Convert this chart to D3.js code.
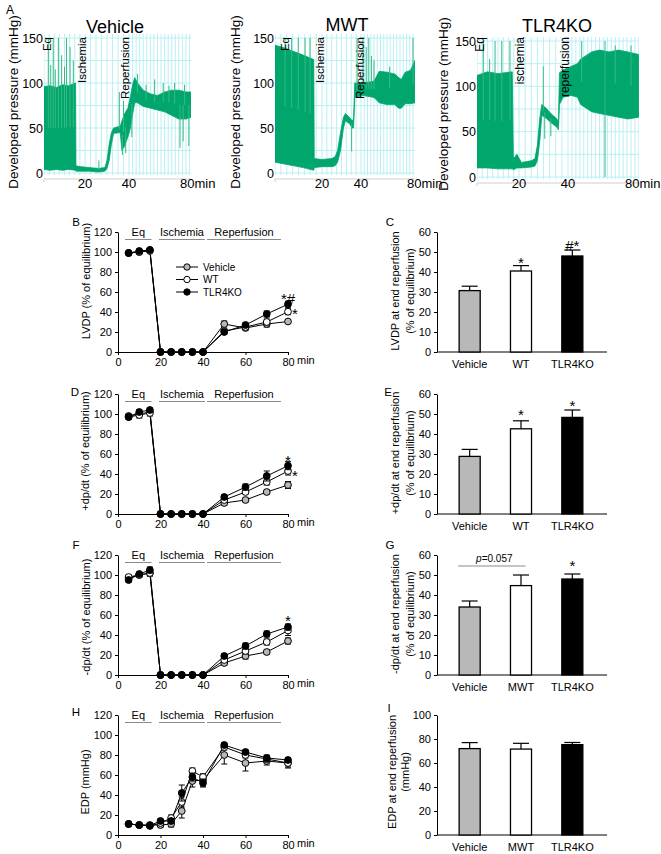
<!DOCTYPE html>
<html><head><meta charset="utf-8">
<script src="https://cdn.jsdelivr.net/npm/d3@7"></script>
<style>
body{margin:0;background:#fff}
svg{display:block}
</style></head><body>
<svg id="c" width="661" height="854"></svg>
<script>
// ================= DATA =================
// Panel A: pressure traces (time in min, envelope low / high in mmHg)
const traceXDomain = [0, 20, 40, 80];
const traceYTicks = [0, 50, 100, 150];
const traceXTicks = [20, 40];
const traceTitles = ["Vehicle", "MWT", "TLR4KO"];

const vehicleEnvelope = [[0,4,96],[3,3,97],[6,4,95],[9,3,98],[12,4,97],[15.4,3,100],[15.6,2,8],[18,2,7],[22,2,6],[26,1,5],[29,2,6],[30,5,14],[31,14,32],[32,32,45],[33,44,50],[36,45,52],[36.8,25,58],[38,30,66],[39.5,40,72],[41,50,85],[42.5,65,98],[44,78,106],[46,78,100],[50,74,92],[55,72,88],[60,70,86],[65,68,90],[70,64,92],[75,60,92],[80,60,90],[83.5,62,90]];
const vehicleSpikes = [[2.1,150],[3.3,120],[4.5,150],[5.5,115],[7,150],[8.6,131],[10,118],[11,150],[12.7,140],[14.3,125],[26.3,14],[35.6,90],[37,20],[37.5,80],[38.5,22],[42,40],[46,110],[52,98],[58,104],[64,100],[68,97],[72,100],[75.8,28],[78,35],[79,98],[82,30]];
const vehicleEvents = ["Eq", "Ischemia", "Reperfusion"];
const vehicleEventTimes = [1.5, 18.5, 38.2];

const mwtEnvelope = [[0,12,142],[4,10,139],[8,8,135],[12,6,131],[16.5,3,126],[16.7,6,16],[20,7,15],[25,7,16],[26.7,8,18],[28,12,25],[29.5,25,45],[31,50,62],[32,58,66],[34,55,62],[35.5,50,58],[36.2,50,60],[36.8,84,100],[42,86,100],[50,84,102],[54,78,113],[60,76,112],[66,76,110],[69,72,106],[71,72,104],[74,77,112],[78,77,114],[81.5,78,125]];
const mwtSpikes = [[4.3,150],[7.1,150],[9.9,150],[12.8,150],[14.9,150],[35.2,24],[38,150],[41.5,150],[44,140],[46,150],[48,130],[50,125],[62,118],[80,150]];
const mwtEvents = ["Eq", "Ischemia", "Reperfusion"];
const mwtEventTimes = [4.3, 19.1, 39.5];

const tlr4Envelope = [[0,10,112],[5,10,116],[10,9,114],[16.8,9,116],[17.3,8,20],[19,10,25],[21,10,16],[25,11,18],[26.5,12,20],[27.5,18,35],[28.5,40,65],[29.3,68,80],[31,65,76],[33,60,70],[35.5,55,64],[36.1,52,60],[36.5,80,115],[38,88,118],[42,90,122],[46,88,125],[48,80,130],[55,72,138],[60,70,140],[66,68,138],[72,66,140],[78,64,138],[85,66,135]];
const tlr4Spikes = [[3,150],[6,130],[8.6,150],[11.8,150],[15.7,150],[29.9,122],[30.5,42],[33,45],[48.7,150],[63.5,0],[63.5,150],[70,145],[80,145]];
const tlr4Events = ["Eq", "ischemia", "reperfusion"];
const tlr4EventTimes = [1.4, 20.4, 38.8];

// Panels B, D, F, H: time course
const lineTimes = [5, 10, 15, 20, 25, 30, 35, 40, 50, 60, 70, 80];
const lineYTicks = [0, 20, 40, 60, 80, 100, 120];
const lineXTicks = [0, 20, 40, 60, 80];
const seriesNames = ["Vehicle", "WT", "TLR4KO"];
const headerNames = ["Eq", "Ischemia", "Reperfusion"];
const headerStart = [3.3, 19.3, 41.9];
const headerEnd = [15.8, 40.9, 76.7];

const lvdpVehicle = [99, 100, 102, 0, 0, 0, 0, 0, 28, 24, 28, 30.5];
const lvdpVehicleErr = [1, 1, 1, 0, 0, 0, 0, 0, 3, 2, 3, 2];
const lvdpWT = [99, 100, 101, 0, 0, 0, 0, 0, 21, 25, 30, 40.3];
const lvdpWTErr = [1, 2, 1, 0, 0, 0, 0, 0, 2, 2, 3, 3];
const lvdpKO = [99, 101, 102, 0, 0, 0, 0, 0, 20, 27, 38, 47.8];
const lvdpKOErr = [1, 1, 1, 0, 0, 0, 0, 0, 2, 2, 3, 3];
const lvdpMarkText = ["*#", "*"];
const lvdpMarkV = [56, 41];

const pdpVehicle = [98, 100, 102, 0, 0, 0, 0, 0, 11, 14, 22, 29];
const pdpVehicleErr = [2, 2, 2, 0, 0, 0, 0, 0, 2, 2, 2, 3.5];
const pdpWT = [97, 99, 101, 0, 0, 0, 0, 0, 14, 22, 32, 43];
const pdpWTErr = [2, 3, 3, 0, 0, 0, 0, 0, 2, 2, 3, 4];
const pdpKO = [97, 102, 104, 0, 0, 0, 0, 0, 17, 27, 38, 48.3];
const pdpKOErr = [2, 2, 2, 0, 0, 0, 0, 0, 2, 3, 5, 4];
const pdpMarkText = ["*", "*"];
const pdpMarkV = [56, 41];

const ndpVehicle = [97, 100, 102, 0, 0, 0, 0, 0, 12, 19, 23, 34];
const ndpVehicleErr = [2, 2, 3, 0, 0, 0, 0, 0, 2, 3, 2, 3];
const ndpWT = [98, 100, 102, 0, 0, 0, 0, 0, 15, 24, 33, 44.5];
const ndpWTErr = [2, 2, 3, 0, 0, 0, 0, 0, 2, 3, 3, 5];
const ndpKO = [95, 101, 105, 0, 0, 0, 0, 0, 19, 29, 41, 48];
const ndpKOErr = [2, 1, 3, 0, 0, 0, 0, 0, 2, 3, 3, 3];
const ndpMarkText = ["*"];
const ndpMarkV = [57];

const edpVehicle = [11, 10, 10, 10, 11, 24, 54, 55, 80, 72, 74, 72];
const edpVehicleErr = [1, 1, 1, 2, 3, 7, 6, 6, 9, 8, 4, 5];
const edpWT = [11, 10, 9, 12, 17, 33, 64, 58, 88, 80, 76, 72];
const edpWTErr = [1, 1, 1, 2, 3, 5, 3, 3, 3, 3, 3, 4];
const edpKO = [11, 10, 9.5, 14, 14, 42, 58, 52, 90, 83, 77, 75];
const edpKOErr = [1, 1, 1, 2, 2, 8, 4, 4, 2, 2, 3, 2];

// Panels C, E, G, I: end of reperfusion
const barCatsWT = ["Vehicle", "WT", "TLR4KO"];
const barCatsMWT = ["Vehicle", "MWT", "TLR4KO"];
const pctTicks = [0, 10, 20, 30, 40, 50, 60];
const edpTicks = [0, 20, 40, 60, 80, 100];
const lvdpEnd = [30.7, 40.5, 48];
const lvdpEndErr = [2.2, 2.7, 3];
const lvdpEndStars = ["", "*", "#*"];
const lvdpEndStarV = [0, 46, 54.5];
const pdpEnd = [28.8, 42.6, 48.3];
const pdpEndErr = [3.5, 4, 3.7];
const pdpEndStars = ["", "*", "*"];
const pdpEndStarV = [0, 51, 55.5];
const ndpEnd = [34, 44.7, 48];
const ndpEndErr = [3, 5.3, 2.5];
const ndpEndStars = ["", "", "*"];
const ndpEndStarV = [0, 0, 56];
const ndpPText = "=0.057";
const ndpPLineV = 54.5;
const edpEnd = [72, 71.6, 75.3];
const edpEndErr = [5, 4.8, 1.8];

// ================= DRAW =================
const svg = d3.select("#c");
const NARROW = "'Liberation Sans Narrow','Arial Narrow','Liberation Sans',Arial,sans-serif";
const REG = "'Liberation Sans',Arial,sans-serif";
const GREEN = "#00a66c";
const SPIKE = "#35b985";
const FILLS = ["#b8b8b8", "#ffffff", "#000000"];
const defs = svg.append("defs");

function txt(g, x, y, s, size, anchor, fam) {
  return g.append("text").attr("x", x).attr("y", y).text(s)
    .attr("font-size", size).attr("font-family", fam || NARROW)
    .attr("text-anchor", anchor || "start").attr("fill", "#000");
}
function mid(env, t) {
  for (let i = 1; i < env.length; i++) {
    if (t <= env[i][0]) {
      const a = env[i - 1], b = env[i];
      const f = (t - a[0]) / (b[0] - a[0] || 1);
      return ((a[1] + a[2]) / 2) * (1 - f) + ((b[1] + b[2]) / 2) * f;
    }
  }
  const l = env[env.length - 1];
  return (l[1] + l[2]) / 2;
}

txt(svg, 6, 14, "A", 12, "start");

const traceCfg = [
  { env: vehicleEnvelope, spikes: vehicleSpikes, ev: vehicleEvents, evT: vehicleEventTimes,
    xr: [44, 85, 129, 186], x0: 44, x1: 191, yr: [173, 38], title: [115, 33], ylab: [13, 102], evFs: 11.5 },
  { env: mwtEnvelope, spikes: mwtSpikes, ev: mwtEvents, evT: mwtEventTimes,
    xr: [275, 322, 361, 413], x0: 275, x1: 415, yr: [173, 38], title: [347, 31], ylab: [235, 102], evFs: 11.5 },
  { env: tlr4Envelope, spikes: tlr4Spikes, ev: tlr4Events, evT: tlr4EventTimes,
    xr: [477, 519, 568, 631], x0: 477, x1: 639, yr: [177, 41], title: [557, 32], ylab: [443, 104], evFs: 12 }
];

traceCfg.forEach((c, i) => {
  const x = d3.scaleLinear().domain(traceXDomain).range(c.xr);
  const y = d3.scaleLinear().domain([0, 150]).range(c.yr);
  const tMax = x.invert(c.x1);
  const g = svg.append("g");
  const cid = "clipA" + i;
  defs.append("clipPath").attr("id", cid).append("rect")
    .attr("x", c.x0).attr("y", c.yr[1] - 4).attr("width", c.x1 - c.x0).attr("height", c.yr[0] - c.yr[1] + 6);
  const p = g.append("g").attr("clip-path", `url(#${cid})`);
  p.selectAll("line.gv").data(d3.range(0, tMax, 2.5)).join("line").attr("class", "gv")
    .attr("x1", d => x(d)).attr("x2", d => x(d)).attr("y1", c.yr[1] - 4).attr("y2", c.yr[0] + 2)
    .attr("stroke", "#b3eef3").attr("stroke-width", 0.9);
  p.selectAll("line.gh").data(d3.range(0, 151, 25)).join("line").attr("class", "gh")
    .attr("y1", d => y(d)).attr("y2", d => y(d)).attr("x1", c.x0).attr("x2", c.x1)
    .attr("stroke", "#b3eef3").attr("stroke-width", 0.9);
  const area = d3.area().x(d => x(d[0])).y0(d => y(d[1])).y1(d => y(d[2]));
  p.append("path").datum(c.env).attr("d", area).attr("fill", GREEN).attr("stroke", GREEN).attr("stroke-width", 0.8);
  p.selectAll("line.sp").data(c.spikes).join("line").attr("class", "sp")
    .attr("x1", d => x(d[0])).attr("x2", d => x(d[0]))
    .attr("y1", d => y(mid(c.env, d[0]))).attr("y2", d => y(d[1]))
    .attr("stroke", SPIKE).attr("stroke-width", 1);
  // bottom axis line
  g.append("line").attr("x1", c.x0).attr("x2", c.x1).attr("y1", c.yr[0] + 6).attr("y2", c.yr[0] + 6)
    .attr("stroke", "#cfcfcf").attr("stroke-width", 1);
  g.selectAll("line.bt").data(traceXDomain).join("line").attr("class", "bt")
    .attr("x1", d => x(d)).attr("x2", d => x(d)).attr("y1", c.yr[0] + 6).attr("y2", c.yr[0] + 9)
    .attr("stroke", "#cfcfcf");
  // y tick labels
  g.selectAll("text.yt").data(traceYTicks).join("text").attr("class", "yt")
    .attr("x", c.x0 - 1).attr("y", d => y(d) + 4.5).text(d => d)
    .attr("font-size", 12.5).attr("font-family", NARROW).attr("text-anchor", "end");
  g.selectAll("text.xt").data(traceXTicks).join("text").attr("class", "xt")
    .attr("x", d => x(d)).attr("y", 188).text(d => d)
    .attr("font-size", 13).attr("font-family", NARROW).attr("text-anchor", "middle");
  txt(g, x(80) - 6, 188, "80min", 13, "start");
  // title
  txt(g, c.title[0], c.title[1], traceTitles[i], 18, "middle", REG);
  // y label
  g.append("text").attr("transform", `translate(${c.ylab[0]},${c.ylab[1]}) rotate(-90)`)
    .attr("dy", "0.35em").attr("text-anchor", "middle").attr("font-size", 13.5).attr("font-family", NARROW)
    .text("Developed pressure (mmHg)");
  // event labels
  g.selectAll("text.ev").data(c.ev).join("text").attr("class", "ev")
    .attr("transform", (d, k) => `translate(${x(c.evT[k])},37) rotate(-90)`)
    .attr("dy", "0.35em").attr("text-anchor", "end").attr("font-size", c.evFs).attr("font-family", NARROW)
    .text(d => d);
});

// ---------- line panels ----------
function linePanel(o) {
  const x = d3.scaleLinear().domain([0, 80]).range([118, 288]);
  const y = d3.scaleLinear().domain([0, 120]).range([o.y0, o.y0 - 120]);
  const g = svg.append("g");
  txt(g, o.letter[0], o.letter[1], o.letterText, 11.5, "middle");
  g.append("g").attr("transform", "translate(118,0)")
    .call(d3.axisLeft(y).tickValues(lineYTicks).tickSize(3).tickSizeOuter(0).tickPadding(3))
    .attr("font-family", NARROW).attr("font-size", 11);
  g.append("g").attr("transform", `translate(0,${o.y0})`)
    .call(d3.axisBottom(x).tickValues(lineXTicks).tickSize(3).tickSizeOuter(0).tickPadding(3))
    .attr("font-family", NARROW).attr("font-size", 11);
  g.selectAll(".domain, .tick line").attr("stroke", "#000");
  txt(g, 297, o.y0 + 12, "min", 11, "start");
  // headers
  g.selectAll("text.hd").data(headerNames).join("text").attr("class", "hd")
    .attr("x", (d, i) => x((headerStart[i] + headerEnd[i]) / 2)).attr("y", y(120) + 4)
    .attr("text-anchor", "middle").attr("font-size", 11).attr("font-family", NARROW).text(d => d);
  g.selectAll("line.hd").data(headerNames).join("line").attr("class", "hd")
    .attr("x1", (d, i) => x(headerStart[i])).attr("x2", (d, i) => x(headerEnd[i]))
    .attr("y1", y(120) + 7.5).attr("y2", y(120) + 7.5).attr("stroke", "#8a8a8a").attr("stroke-width", 1);
  // y label
  g.append("text").attr("transform", `translate(${o.ylab[0]},${o.ylab[1]}) rotate(-90)`)
    .attr("dy", "0.35em").attr("text-anchor", "middle").attr("font-size", 11).attr("font-family", NARROW)
    .text(o.ylabel);
  const pts = o.series.map(s => lineTimes.map((t, j) => ({ t, v: s.vals[j], e: s.errs[j] })));
  const line = d3.line().x(d => x(d.t)).y(d => y(d.v));
  pts.forEach(p => g.append("path").datum(p).attr("d", line).attr("fill", "none").attr("stroke", "#000").attr("stroke-width", 1));
  pts.forEach((p, k) => {
    const eg = g.append("g").attr("stroke", "#000").attr("stroke-width", 1);
    const ep = p.filter(d => d.e > 0);
    eg.selectAll("line.ev").data(ep).join("line").attr("class", "ev")
      .attr("x1", d => x(d.t)).attr("x2", d => x(d.t)).attr("y1", d => y(d.v - d.e)).attr("y2", d => y(d.v + d.e));
    eg.selectAll("line.eu").data(ep).join("line").attr("class", "eu")
      .attr("x1", d => x(d.t) - 3).attr("x2", d => x(d.t) + 3).attr("y1", d => y(d.v + d.e)).attr("y2", d => y(d.v + d.e));
    eg.selectAll("line.el").data(ep).join("line").attr("class", "el")
      .attr("x1", d => x(d.t) - 3).attr("x2", d => x(d.t) + 3).attr("y1", d => y(d.v - d.e)).attr("y2", d => y(d.v - d.e));
    g.selectAll(null).data(p).join("circle")
      .attr("cx", d => x(d.t)).attr("cy", d => y(d.v)).attr("r", 3.4)
      .attr("fill", FILLS[k]).attr("stroke", "#000").attr("stroke-width", 1);
  });
  if (o.marks) {
    o.marks.text.forEach((m, i) => {
      txt(g, x(80) + o.marks.dx[i], y(o.marks.v[i]) + 8, m, 15, "middle", REG);
    });
  }
  if (o.legend) {
    seriesNames.forEach((n, k) => {
      const ly = o.legend[1] + k * 12.5;
      g.append("line").attr("x1", o.legend[0]).attr("x2", o.legend[0] + 22).attr("y1", ly).attr("y2", ly).attr("stroke", "#000");
      g.append("circle").attr("cx", o.legend[0] + 11).attr("cy", ly).attr("r", 3.2).attr("fill", FILLS[k]).attr("stroke", "#000");
      txt(g, o.legend[0] + 27, ly + 3.5, n, 10, "start");
    });
  }
}

function barPanel(o) {
  const x = d3.scaleBand().domain(o.cats).range([444, 598]).paddingInner(0.59).paddingOuter(0.295);
  const y = d3.scaleLinear().domain([0, o.ymax]).range([o.y0, o.y0 - 120]);
  const g = svg.append("g");
  txt(g, o.letter[0], o.letter[1], o.letterText, 11.5, "middle");
  g.append("g").attr("transform", "translate(437,0)")
    .call(d3.axisLeft(y).tickValues(o.ticks).tickSize(3).tickSizeOuter(0).tickPadding(3))
    .attr("font-family", NARROW).attr("font-size", 11);
  g.selectAll(".domain, .tick line").attr("stroke", "#000");
  g.append("line").attr("x1", 437).attr("x2", 607).attr("y1", o.y0).attr("y2", o.y0).attr("stroke", "#000");
  const data = o.cats.map((c, i) => ({ c, v: o.vals[i], e: o.errs[i], i }));
  g.selectAll("line.eb").data(data).join("line").attr("class", "eb")
    .attr("x1", d => x(d.c) + x.bandwidth() / 2).attr("x2", d => x(d.c) + x.bandwidth() / 2)
    .attr("y1", d => y(d.v)).attr("y2", d => y(d.v + d.e)).attr("stroke", "#000").attr("stroke-width", 1.2);
  g.selectAll("line.ec").data(data).join("line").attr("class", "ec")
    .attr("x1", d => x(d.c) + x.bandwidth() / 2 - 8).attr("x2", d => x(d.c) + x.bandwidth() / 2 + 8)
    .attr("y1", d => y(d.v + d.e)).attr("y2", d => y(d.v + d.e)).attr("stroke", "#000").attr("stroke-width", 1.2);
  g.selectAll("rect.b").data(data).join("rect").attr("class", "b")
    .attr("x", d => x(d.c)).attr("width", x.bandwidth()).attr("y", d => y(d.v)).attr("height", d => o.y0 - y(d.v))
    .attr("fill", d => FILLS[d.i]).attr("stroke", "#000").attr("stroke-width", 1.3);
  g.selectAll("text.cat").data(data).join("text").attr("class", "cat")
    .attr("x", d => x(d.c) + x.bandwidth() / 2).attr("y", o.y0 + 16).attr("text-anchor", "middle")
    .attr("font-size", 11).attr("font-family", NARROW).text(d => d.c);
  if (o.stars) {
    g.selectAll("text.st").data(data.filter(d => o.stars[d.i])).join("text").attr("class", "st")
      .attr("x", d => x(d.c) + x.bandwidth() / 2).attr("y", d => y(o.starV[d.i]) + 8)
      .attr("text-anchor", "middle").attr("font-size", 15).attr("font-family", REG).text(d => o.stars[d.i]);
  }
  if (o.pText) {
    const py = y(o.pLineV);
    g.append("line").attr("x1", x(o.cats[0]) - 1).attr("x2", x(o.cats[1]) + x.bandwidth() - 6)
      .attr("y1", py).attr("y2", py).attr("stroke", "#8a8a8a");
    const t = g.append("text").attr("x", (x(o.cats[0]) + x(o.cats[1]) + x.bandwidth()) / 2 - 1).attr("y", py - 4)
      .attr("text-anchor", "middle").attr("font-size", 10).attr("font-family", NARROW);
    t.append("tspan").attr("font-style", "italic").text("p");
    t.append("tspan").text(o.pText);
  }
  o.ylabel.forEach((l, k) => {
    g.append("text").attr("transform", `translate(${o.ylabX[k]},${o.ylabY}) rotate(-90)`)
      .attr("dy", "0.35em").attr("text-anchor", "middle").attr("font-size", 11).attr("font-family", NARROW).text(l);
  });
}

linePanel({ y0: 352, letter: [76, 226], letterText: "B", ylab: [86, 281], ylabel: "LVDP (% of equilibrium)",
  series: [{ vals: lvdpVehicle, errs: lvdpVehicleErr }, { vals: lvdpWT, errs: lvdpWTErr }, { vals: lvdpKO, errs: lvdpKOErr }],
  marks: { text: lvdpMarkText, v: lvdpMarkV, dx: [0, 7] }, legend: [176, 267] });
linePanel({ y0: 514, letter: [75, 396], letterText: "D", ylab: [85, 451], ylabel: "+dp/dt (% of equilibrium)",
  series: [{ vals: pdpVehicle, errs: pdpVehicleErr }, { vals: pdpWT, errs: pdpWTErr }, { vals: pdpKO, errs: pdpKOErr }],
  marks: { text: pdpMarkText, v: pdpMarkV, dx: [0, 7] } });
linePanel({ y0: 675, letter: [76, 549], letterText: "F", ylab: [86, 617], ylabel: "-dp/dt (% of equilibrium)",
  series: [{ vals: ndpVehicle, errs: ndpVehicleErr }, { vals: ndpWT, errs: ndpWTErr }, { vals: ndpKO, errs: ndpKOErr }],
  marks: { text: ndpMarkText, v: ndpMarkV, dx: [0] } });
linePanel({ y0: 835, letter: [76, 716], letterText: "H", ylab: [85, 782], ylabel: "EDP (mmHg)",
  series: [{ vals: edpVehicle, errs: edpVehicleErr }, { vals: edpWT, errs: edpWTErr }, { vals: edpKO, errs: edpKOErr }] });

barPanel({ y0: 352, ymax: 60, ticks: pctTicks, cats: barCatsWT, vals: lvdpEnd, errs: lvdpEndErr,
  stars: lvdpEndStars, starV: lvdpEndStarV, letter: [390, 226], letterText: "C",
  ylabel: ["LVDP at end reperfusion", "(% of equilibrium)"], ylabX: [395, 410], ylabY: 291 });
barPanel({ y0: 514, ymax: 60, ticks: pctTicks, cats: barCatsWT, vals: pdpEnd, errs: pdpEndErr,
  stars: pdpEndStars, starV: pdpEndStarV, letter: [388, 396], letterText: "E",
  ylabel: ["+dp/dt at end reperfusion", "(% of equilibrium)"], ylabX: [395, 410], ylabY: 453 });
barPanel({ y0: 675, ymax: 60, ticks: pctTicks, cats: barCatsMWT, vals: ndpEnd, errs: ndpEndErr,
  stars: ndpEndStars, starV: ndpEndStarV, letter: [390, 549], letterText: "G", pText: ndpPText, pLineV: ndpPLineV,
  ylabel: ["-dp/dt at end reperfusion", "(% of equilibrium)"], ylabX: [395, 410], ylabY: 614 });
barPanel({ y0: 835, ymax: 100, ticks: edpTicks, cats: barCatsMWT, vals: edpEnd, errs: edpEndErr,
  letter: [389, 712], letterText: "I",
  ylabel: ["EDP at end reperfusion", "(mmHg)"], ylabX: [392, 405], ylabY: 772 });
</script>
</body></html>
